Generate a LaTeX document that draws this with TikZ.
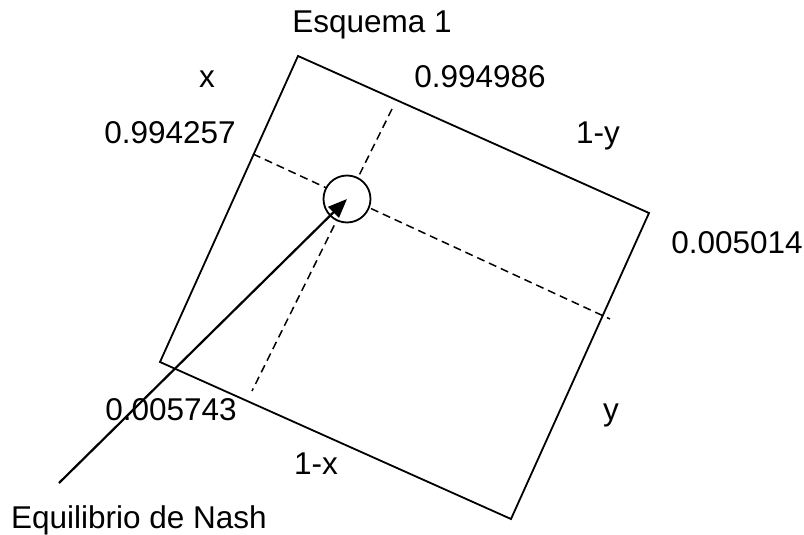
\documentclass[tikz,border=0pt]{standalone}
\usepackage{fontspec}
\setmainfont{Liberation Sans}
\usetikzlibrary{arrows.meta}

\begin{document}
\begin{tikzpicture}[x=1pt,y=-1pt,
  lbl/.style={anchor=base,inner sep=0pt,font=\fontsize{31.5}{36}\selectfont},
  dashline/.style={line width=1.5pt,dash pattern=on 8pt off 5pt}]
 \useasboundingbox (0,0) rectangle (804,535);

 \coordinate (top) at (298,56);
 \coordinate (right) at (649,213);
 \coordinate (bottom) at (511,519);
 \coordinate (left) at (160,362);

 \draw[line width=1.8pt] (top) -- (right) -- (bottom) -- (left) -- cycle;

 \coordinate (ya) at (253,154);
 \coordinate (yb) at (610,319);
 \coordinate (xa) at (392,109);
 \coordinate (xb) at (252,391);
 \draw[dashline] (ya) -- (yb);
 \draw[dashline] (xa) -- (xb);

 \node[circle,draw,fill=white,line width=1.8pt,minimum size=47pt,inner sep=0pt] (eq) at (347,199) {};

 \coordinate (tail) at (59,483);
 \draw[line width=2.2pt,-{Triangle[length=19pt,width=15pt]}] (tail) -- (eq.center);

 \node[lbl] (title) at (372,33) {Esquema 1};
 \node[lbl] (xl) at (207,88) {x};
 \node[lbl] (ytop) at (480,88) {0.994986};
 \node[lbl] (xtop) at (170,143) {0.994257};
 \node[lbl] (oneminusy) at (598,143) {1-y};
 \node[lbl] (ybot) at (737,253) {0.005014};
 \node[lbl] (xbot) at (171,420) {0.005743};
 \node[lbl] (yl) at (611,420) {y};
 \node[lbl] (oneminusx) at (316,474) {1-x};
 \node[lbl,anchor=base west] (nash) at (11,528) {Equilibrio de Nash};
\end{tikzpicture}
\end{document}
